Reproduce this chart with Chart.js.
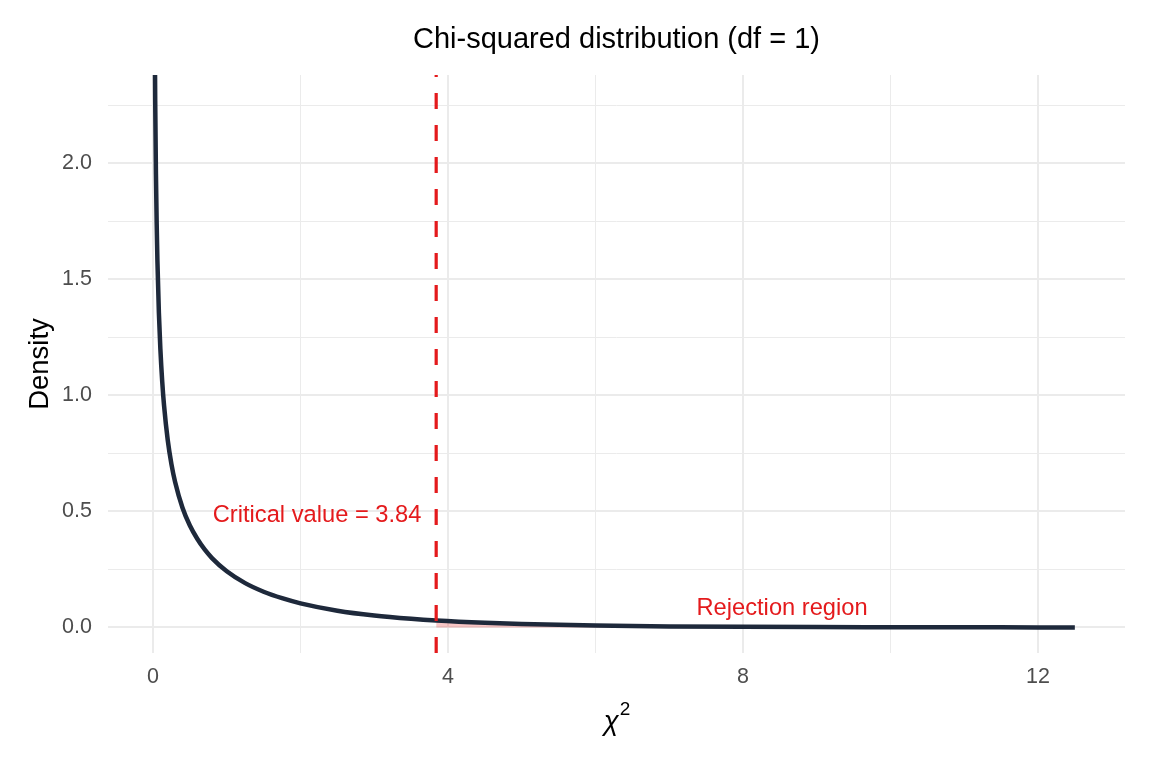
<!DOCTYPE html>
<html>
<head>
<meta charset="utf-8">
<script src="https://cdn.jsdelivr.net/npm/chart.js@4.4.1/dist/chart.umd.min.js"></script>
<style>
  html, body { margin: 0; padding: 0; background: #ffffff; }
  #wrap { width: 1152px; height: 768px; position: relative; }
</style>
</head>
<body>
<div id="wrap"><canvas id="chart-chisq"></canvas></div>
<script>

// chi-squared values
const chiX = [0.02, 0.03, 0.04, 0.05, 0.06, 0.08, 0.1, 0.125, 0.15, 0.2, 0.25, 0.3, 0.4, 0.5, 0.6, 0.7, 0.8, 1.0,
    1.25, 1.5, 1.75, 2, 2.5, 3, 3.5, 3.84, 4.5, 5, 6, 7, 8, 9, 10, 11, 12, 12.5]
const density = [2.79, 2.27, 1.955, 1.74, 1.58, 1.355, 1.2, 1.06, 0.956, 0.807, 0.704, 0.627, 0.516, 0.439, 0.382, 0.336, 0.299, 0.242,
    0.191, 0.154, 0.126, 0.104, 0.0723, 0.0514, 0.0371, 0.0298, 0.0198, 0.0146, 0.0081, 0.0046, 0.0026, 0.0015, 0.00085, 0.0005, 0.0003, 0.0002]

const criticalValue = 3.84
const xTicks = [0, 2, 4, 6, 8, 10, 12]
const yTicks = [0, 0.25, 0.5, 0.75, 1.0, 1.25, 1.5, 1.75, 2.0, 2.25]
const xRange = [-0.61, 13.18]
const yRange = [-0.11, 2.38]

const titleText = 'Chi-squared distribution (df = 1)'
const notes = [
    { text: 'Critical value = 3.84', x: 3.64, y: 0.49, align: 'right' },
    { text: 'Rejection region', x: 8.53, y: 0.09, align: 'center' }
]

const fontFamily = '"Liberation Sans", Arial, sans-serif'
const red = '#e41a1c'

const curvePoints = chiX.map((x, i) => ({ x: x, y: density[i] }))
const shadePoints = curvePoints.filter(p => p.x >= criticalValue)

const dataChi = {
    datasets: [
        {
            data: shadePoints,
            borderWidth: 0,
            backgroundColor: 'rgba(228, 26, 28, 0.25)',
            fill: 'origin',
            pointRadius: 0,
            cubicInterpolationMode: 'monotone',
            order: 3
        },
        {
            data: curvePoints,
            borderColor: '#1e293b',
            borderWidth: 4.5,
            pointRadius: 0,
            fill: false,
            cubicInterpolationMode: 'monotone',
            clip: 0,
            order: 2
        },
        {
            data: [{ x: criticalValue, y: yRange[0] }, { x: criticalValue, y: yRange[1] }],
            borderColor: red,
            borderWidth: 3.2,
            borderDash: [16, 16],
            pointRadius: 0,
            fill: false,
            clip: 0,
            order: 1
        }
    ]
}

// title, x title and text notes drawn over the plot
const textLayer = {
    id: 'textLayer',
    afterDraw(chart) {
        const ctx = chart.ctx
        const area = chart.chartArea
        const xs = chart.scales.x
        const ys = chart.scales.y
        const mid = (area.left + area.right) / 2
        ctx.save()

        ctx.fillStyle = '#000000'
        ctx.font = '29px ' + fontFamily
        ctx.textAlign = 'center'
        ctx.textBaseline = 'alphabetic'
        ctx.fillText(titleText, mid, 48)

        // chi squared axis title
        ctx.font = 'italic 27.5px ' + fontFamily
        const chiW = ctx.measureText('χ').width
        ctx.font = '19px ' + fontFamily
        const supW = ctx.measureText('2').width
        const startX = mid - (chiW + supW) / 2
        ctx.textAlign = 'left'
        ctx.font = 'italic 27.5px ' + fontFamily
        ctx.fillText('χ', startX, 730)
        ctx.font = '19px ' + fontFamily
        ctx.fillText('2', startX + chiW + 1, 715)

        ctx.fillStyle = red
        ctx.font = '23.7px ' + fontFamily
        notes.forEach(n => {
            ctx.textAlign = n.align
            ctx.fillText(n.text, xs.getPixelForValue(n.x), ys.getPixelForValue(n.y) + 8.5)
        })
        ctx.restore()
    }
}

const gridColor = '#ebebeb'

const configChi = new Chart(
    document.getElementById('chart-chisq'), {
    type: 'line',
    data: dataChi,
    plugins: [textLayer],
    options: {
        responsive: true,
        maintainAspectRatio: false,
        animation: false,
        layout: {
            padding: { left: 0, right: 27, top: 75, bottom: 0 }
        },
        plugins: {
            legend: { display: false },
            tooltip: { enabled: false },
            title: { display: false }
        },
        scales: {
            x: {
                type: 'linear',
                min: xRange[0],
                max: xRange[1],
                border: { display: false },
                afterBuildTicks: (scale) => { scale.ticks = xTicks.map(v => ({ value: v })) },
                afterFit: (scale) => { scale.height = 115 },
                grid: {
                    drawTicks: false,
                    color: gridColor,
                    lineWidth: (c) => (c.tick && c.tick.value % 4 === 0) ? 2 : 1
                },
                ticks: {
                    autoSkip: false,
                    maxRotation: 0,
                    padding: 11,
                    color: '#4d4d4d',
                    font: { family: fontFamily, size: 21.5 },
                    callback: (v) => (v % 4 === 0) ? String(v) : ''
                }
            },
            y: {
                type: 'linear',
                min: yRange[0],
                max: yRange[1],
                border: { display: false },
                afterBuildTicks: (scale) => { scale.ticks = yTicks.map(v => ({ value: v })) },
                afterFit: (scale) => { scale.width = 108 },
                grid: {
                    drawTicks: false,
                    color: gridColor,
                    lineWidth: (c) => (c.tick && Math.abs(c.tick.value * 2 - Math.round(c.tick.value * 2)) < 1e-6) ? 2 : 1
                },
                ticks: {
                    padding: 16,
                    color: '#4d4d4d',
                    font: { family: fontFamily, size: 21.5 },
                    callback: (v) => (Math.abs(v * 2 - Math.round(v * 2)) < 1e-6) ? v.toFixed(1) : ''
                },
                title: {
                    display: true,
                    text: 'Density',
                    color: '#000000',
                    font: { family: fontFamily, size: 27.5 },
                    padding: { top: 24, bottom: 0 }
                }
            }
        }
    }
})
</script>
</body>
</html>
